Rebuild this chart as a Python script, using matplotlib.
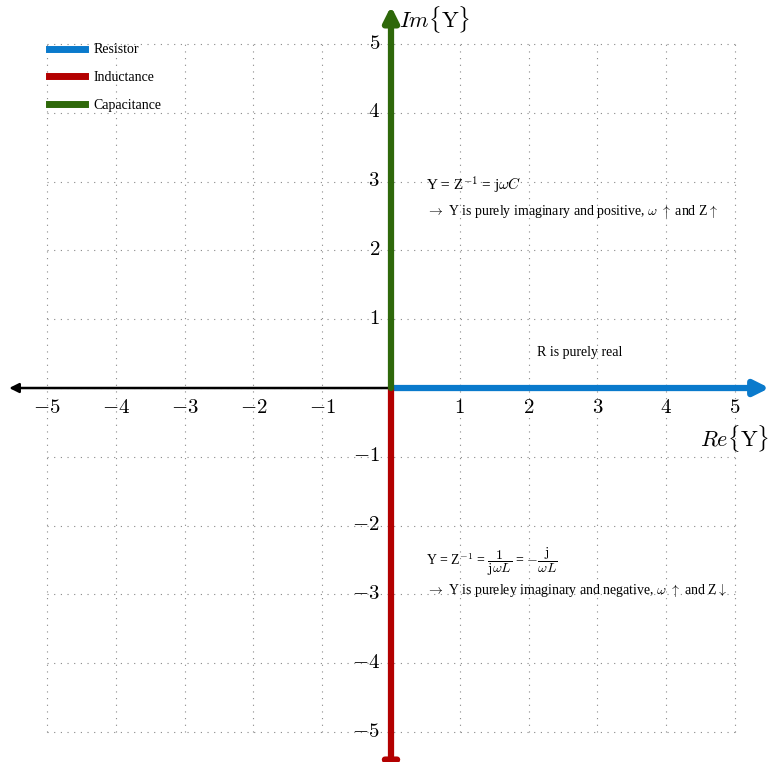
import matplotlib.pyplot as plt
from matplotlib.lines import Line2D

plt.rcParams['mathtext.fontset'] = 'cm'
plt.rcParams['font.family'] = ['Liberation Serif', 'DejaVu Serif']

# data
ticks = [-5, -4, -3, -2, -1, 0, 1, 2, 3, 4, 5]
tick_labels = ['$%d$' % t for t in ticks]
names = ['Resistor', 'Inductance', 'Capacitance']
colors = ['#0a7acc', '#b30000', '#2e680a']
starts = [(0, 0), (0, 0), (0, 0)]
ends = [(5.5, 0), (0, -5.68), (0, 5.55)]
neg_axis_end = (-5.55, 0)

fig = plt.figure(figsize=(7.71, 7.62), dpi=100)
ax = fig.add_axes([0, 0, 1, 1])
ax.set_xlim(-5.683, 5.523)
ax.set_ylim(-5.436, 5.64)
ax.axis('off')

# dotted grid
for t in ticks:
    ax.plot([t, t], [-5, 5], ls=(0, (1, 5)), color='#888888', lw=0.8, zorder=0)
    ax.plot([-5, 5], [t, t], ls=(0, (1, 5)), color='#888888', lw=0.8, zorder=0)

# black negative real axis
ax.annotate('', xy=neg_axis_end, xytext=(0, 0), annotation_clip=False,
            arrowprops=dict(arrowstyle='-|>', lw=1.8, color='black',
                            mutation_scale=14, shrinkA=0, shrinkB=0))

# component arrows
for s, e, c in zip(starts, ends, colors):
    ax.annotate('', xy=e, xytext=s, annotation_clip=False,
                arrowprops=dict(arrowstyle='-|>', lw=4.5, color=c,
                                mutation_scale=22, shrinkA=0, shrinkB=0),
                zorder=3)

# tick labels
for t, lab in zip(ticks, tick_labels):
    if t == 0:
        continue
    ax.text(t, -0.3, lab, ha='center', va='center', fontsize=15)
    ax.text(-0.16, t, lab, ha='right', va='center', fontsize=15)

ax.text(0.12, 5.35, r'$Im\{\mathrm{Y}\}$', ha='left', va='center', fontsize=16)
ax.text(5.5, -0.73, r'$Re\{\mathrm{Y}\}$', ha='right', va='center', fontsize=16)

# annotations
ax.text(0.51, 2.94, r'Y = Z$^{-1}$ = j$\omega C$', fontsize=11, va='center')
ax.text(0.51, 2.56, r'$\rightarrow$ Y is purely imaginary and positive, $\omega$ $\uparrow$ and Z$\uparrow$',
        fontsize=10, va='center')
ax.text(2.12, 0.52, 'R is purely real', fontsize=10, va='center')
ax.text(0.51, -2.53, r'Y = Z$^{-1}$ = $\dfrac{1}{\mathrm{j}\omega L}$ = $-\dfrac{\mathrm{j}}{\omega L}$',
        fontsize=10, va='center')
ax.text(0.51, -2.95, r'$\rightarrow$ Y is pureley imaginary and negative, $\omega$ $\uparrow$ and Z$\downarrow$',
        fontsize=10, va='center')

handles = [Line2D([0], [0], color=c, lw=5) for c in colors]
ax.legend(handles, names, loc='upper left', bbox_to_anchor=(0.064, 0.943),
          frameon=False, fontsize=10, handlelength=2.6, handletextpad=0.6,
          labelspacing=1.05, borderaxespad=0, borderpad=0)

fig.savefig('out.png', dpi=100)
